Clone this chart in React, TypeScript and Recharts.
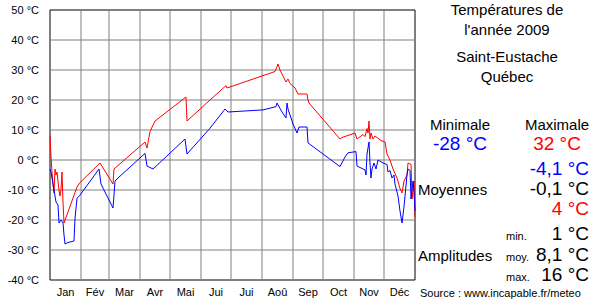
import React from "react";
import { LineChart, Line, XAxis, YAxis, ReferenceLine, ReferenceArea } from "recharts";

// day of year (0 = 1 Jan) and daily temperatures
const maxDays = [0, 1, 2, 3, 4, 5, 6, 7, 8, 9, 10, 11, 12, 13, 14, 27, 30, 50, 63, 64, 95, 97, 100, 105, 136, 137, 160, 176, 177, 225, 228, 230, 236, 238, 240, 245, 248, 257, 258, 259, 290, 292, 305, 307, 313, 315, 317, 318, 319, 320, 321, 323, 325, 327, 331, 335, 337, 340, 343, 347, 350, 352, 354, 357, 358, 361, 362, 364, 365];
const maxTemps = [8, 1, -4, -8, -11, -3, -5, -4, -7, -10, -12, -10, -4, -14, -21, -9, -7.5, -1, -8, -3, 6, 4, 9.5, 13, 21, 13, 20, 24.8, 24, 29.5, 32, 30, 26, 27, 25.5, 24, 22, 22, 20, 19, 7, 7.5, 9, 7, 8.5, 7.8, 10.5, 9, 13, 7, 9, 7, 8, 7.5, 6.5, 6, 2, 0, -3, -6, -9.5, -11, -7, -5, -1, -1.5, -13, -7, -19];

const minDays = [0, 1, 2, 4, 6, 8, 9, 11, 13, 14, 15, 18, 24, 25, 27, 30, 49, 51, 63, 64, 65, 68, 95, 97, 103, 135, 137, 160, 175, 178, 213, 226, 227, 232, 236, 237, 238, 243, 247, 249, 257, 258, 290, 295, 298, 306, 307, 310, 315, 316, 317, 319, 320, 321, 322, 324, 326, 328, 333, 337, 338, 340, 342, 344, 345, 348, 350, 352, 354, 357, 358, 360, 361, 363, 364, 365];
const minTemps = [-3, -4, -6, -10, -14, -15, -21, -20, -21, -25, -28, -27.5, -27, -19.4, -12.8, -11.7, -3, -8, -16, -11.7, -7, -6, 2.2, -2, -3, 7, 2, 10.6, 17, 16, 16.7, 17.8, 19, 16, 14, 19, 17, 12, 9, 11, 11, 5.7, -2.2, 1, 2.4, 2.8, -2, -2.5, -3.3, -5, 2, 6, -1, -6, -3, -1, -3, 0, -1, -1.5, -4, -3.5, -6, -5, -8, -12, -17, -21, -15.6, -5, -3, -3.5, -13, -7, -10.6, -17];

const monthStarts = [0, 31, 59, 90, 120, 151, 181, 212, 243, 273, 304, 334, 365];
const monthLabels = ["Jan", "Fév", "Mar", "Avr", "Mai", "Jui", "Jui", "Aoû", "Sep", "Oct", "Nov", "Déc"];
const yTicks = [-40, -30, -20, -10, 0, 10, 20, 30, 40, 50];

const maxData = maxDays.map((d, i) => ({ d, t: maxTemps[i] }));
const minData = minDays.map((d, i) => ({ d, t: minTemps[i] }));
const monthMids = monthLabels.map((_, i) => (monthStarts[i] + monthStarts[i + 1]) / 2);

const font = "'Liberation Sans', Arial, sans-serif";

export default function App() {
  return (
    <div style={{ position: "absolute", left: 0, top: 0, width: 600, height: 300, background: "#fff", fontFamily: font }}>
      <LineChart width={600} height={300} margin={{ top: 10, right: 185, bottom: 0, left: 0 }}>
        <XAxis
          type="number"
          dataKey="d"
          domain={[0, 365]}
          ticks={monthMids}
          tickFormatter={(v) => monthLabels[monthMids.indexOf(v)]}
          axisLine={false}
          tickLine={false}
          interval={0}
          height={20}
          tick={{ fontSize: 11, fill: "#000", fontFamily: font }}
          tickMargin={2}
        />
        <YAxis
          type="number"
          domain={[-40, 50]}
          ticks={yTicks}
          tickFormatter={(v) => `${v} °C`}
          axisLine={false}
          tickLine={false}
          width={50}
          interval={0}
          tick={{ fontSize: 11, fill: "#000", fontFamily: font }}
          tickMargin={5}
        />
        {monthStarts.slice(1, -1).map((m) => (
          <ReferenceLine key={"m" + m} x={m} stroke="#808080" strokeWidth={1} />
        ))}
        {yTicks.slice(1, -1).map((y) => (
          <ReferenceLine key={"y" + y} y={y} stroke="#808080" strokeWidth={1} />
        ))}
        <ReferenceArea x1={0} x2={365} y1={-40} y2={50} fill="none" stroke="#000" strokeWidth={1} fillOpacity={0} />
        <Line data={maxData} dataKey="t" type="linear" stroke="#ff0000" strokeWidth={1} dot={false} isAnimationActive={false} />
        <Line data={minData} dataKey="t" type="linear" stroke="#0000ff" strokeWidth={1} dot={false} isAnimationActive={false} />
      </LineChart>
      <svg width={185} height={300} style={{ position: "absolute", left: 415, top: 0 }} fontFamily={font}>
        <g textAnchor="middle" fontSize={15}>
          <text x={92} y={15}>Températures de</text>
          <text x={92} y={35}>l'année 2009</text>
          <text x={92} y={62}>Saint-Eustache</text>
          <text x={92} y={82}>Québec</text>
          <text x={45} y={130}>Minimale</text>
          <text x={142} y={130}>Maximale</text>
          <text x={45} y={150} fontSize={19} fill="#0000ff">-28 °C</text>
          <text x={142} y={150} fontSize={19} fill="#ff0000">32 °C</text>
        </g>
        <g textAnchor="end" fontSize={19}>
          <text x={174} y={175} fill="#0000ff">-4,1 °C</text>
          <text x={174} y={195} fill="#000">-0,1 °C</text>
          <text x={174} y={215} fill="#ff0000">4 °C</text>
          <text x={174} y={240}>1 °C</text>
          <text x={174} y={261}>8,1 °C</text>
          <text x={174} y={281}>16 °C</text>
        </g>
        <text x={3} y={195} fontSize={15}>Moyennes</text>
        <text x={3} y={261} fontSize={15}>Amplitudes</text>
        <g fontSize={11}>
          <text x={91} y={240}>min.</text>
          <text x={91} y={261}>moy.</text>
          <text x={91} y={281}>max.</text>
        </g>
        <text x={5} y={297} fontSize={11}>Source : www.incapable.fr/meteo</text>
      </svg>
    </div>
  );
}
